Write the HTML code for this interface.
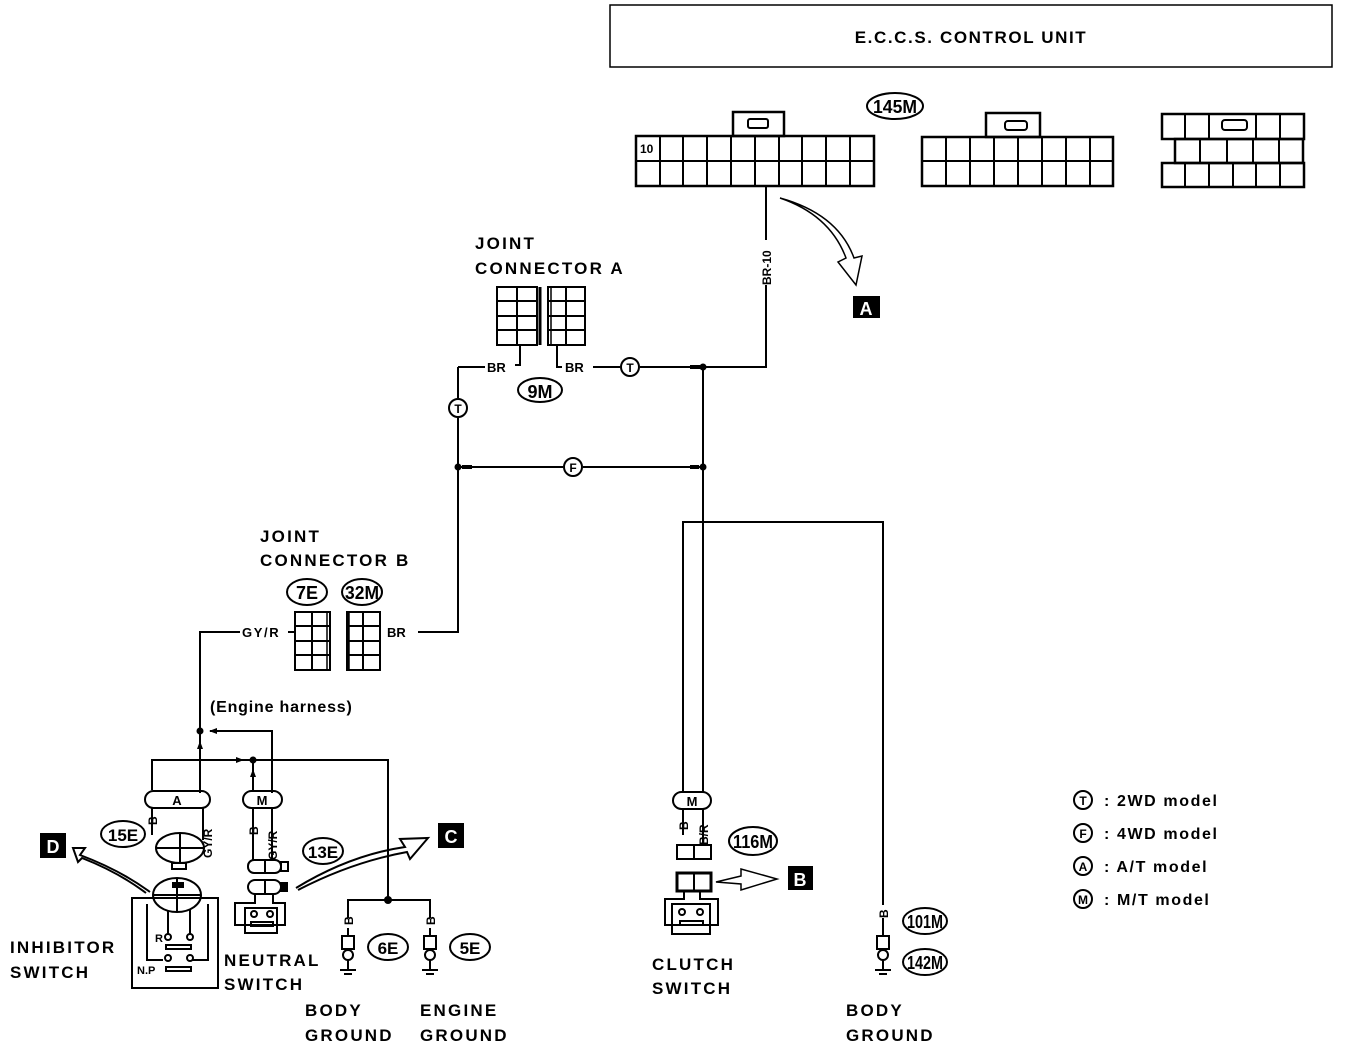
<!DOCTYPE html>
<html><head><meta charset="utf-8"><style>
html,body{margin:0;padding:0;background:#fff;}
svg{display:block;}
text{font-family:"Liberation Sans",sans-serif;font-weight:bold;fill:#000;}
.L{letter-spacing:2.2px;}
.G{letter-spacing:1.6px;}
</style></head><body>
<svg width="1360" height="1054" viewBox="0 0 1360 1054" xmlns="http://www.w3.org/2000/svg">
<defs>
<marker id="ah" markerWidth="8" markerHeight="8" refX="7" refY="4" orient="auto" markerUnits="userSpaceOnUse"><path d="M0,1 L8,4 L0,7z" fill="#000"/></marker>
</defs>
<g stroke="#000" stroke-width="2" fill="none">
<rect x="610" y="5" width="722" height="62" stroke-width="1.5"/>
<rect x="733" y="112" width="51" height="24" stroke-width="2.5"/>
<rect x="748" y="119" width="20" height="9" rx="2"/>
<rect x="636" y="136" width="238" height="50" stroke-width="2.5"/>
<line x1="636" y1="161" x2="874" y2="161"/>
<path d="M660,136V186M683,136V186M707,136V186M731,136V186M755,136V186M779,136V186M802,136V186M826,136V186M850,136V186"/>
<rect x="986" y="113" width="54" height="24" stroke-width="2.5"/>
<rect x="1005" y="121" width="22" height="9" rx="3"/>
<rect x="922" y="137" width="191" height="49" stroke-width="2.5"/>
<line x1="922" y1="161" x2="1113" y2="161"/>
<path d="M946,137V186M970,137V186M994,137V186M1018,137V186M1042,137V186M1066,137V186M1090,137V186"/>
<rect x="1162" y="114" width="142" height="25" stroke-width="2.5"/>
<path d="M1185,114V139M1209,114V139M1256,114V139M1280,114V139"/>
<rect x="1222" y="120" width="25" height="10" rx="3"/>
<rect x="1175" y="139" width="128" height="24" stroke-width="2.5"/>
<path d="M1200,139V163M1227,139V163M1253,139V163M1279,139V163"/>
<rect x="1162" y="163" width="142" height="24" stroke-width="2.5"/>
<path d="M1185,163V187M1209,163V187M1233,163V187M1256,163V187M1280,163V187"/>
<ellipse cx="895" cy="106" rx="28" ry="13"/>
<path d="M780,198 Q830,215 846,258 L838,262 L856,285 L862,256 L854,258 Q838,214 780,198z" stroke-width="1.5"/>

<path d="M766,187V240M766,285V367H703"/>
<rect x="497" y="287" width="40" height="58"/>
<path d="M517,287V345M497,301H537M497,316H537M497,330H537"/>
<line x1="540" y1="287" x2="540" y2="345" stroke-width="3"/>
<rect x="548" y="287" width="37" height="58"/>
<line x1="551" y1="287" x2="551" y2="345" stroke-width="1.5"/>
<path d="M566,287V345M548,301H585M548,316H585M548,330H585"/>
<path d="M520,345V365H515M458,367H485"/>
<path d="M557,345V367H562M593,367H620M640,367H700" />
<circle cx="630" cy="367" r="9"/>
<line x1="690" y1="367" x2="700" y2="367" stroke-width="4"/>
<ellipse cx="540" cy="390" rx="22" ry="12"/>
<path d="M458,367V398M458,418V632H418"/>
<circle cx="458" cy="408" r="9"/>
<path d="M458,467H563M583,467H703"/>
<circle cx="573" cy="467" r="9"/>
<line x1="690" y1="467" x2="699" y2="467" stroke-width="4"/>
<line x1="462" y1="467" x2="472" y2="467" stroke-width="4"/>
<path d="M703,367V792"/>
<path d="M683,792V522H883V905"/>
<ellipse cx="307" cy="592" rx="20" ry="13"/>
<ellipse cx="362" cy="592" rx="20" ry="13"/>
<rect x="295" y="612" width="35" height="58"/>
<path d="M312,612V670M295,626H330M295,641H330M295,655H330"/>
<line x1="327" y1="612" x2="327" y2="670" stroke-width="1.5"/>
<rect x="347" y="612" width="33" height="58"/>
<line x1="348" y1="612" x2="348" y2="670" stroke-width="3.5"/>
<path d="M363,612V670M347,626H380M347,641H380M347,655H380"/>
<path d="M200,793V632H240M288,632H295"/>
<path d="M272,793V731H210" marker-end="url(#ah)"/>
<path d="M152,790V760H243" marker-end="url(#ah)"/>
<path d="M243,760H388V900"/>
<path d="M253,790V770" marker-end="url(#ah)"/>
<line x1="253" y1="770" x2="253" y2="762"/>
<path d="M200,760V740"/>
<path d="M200,752V742" marker-end="url(#ah)"/>
<rect x="145" y="791" width="65" height="17" rx="8.5"/>
<rect x="243" y="791" width="39" height="17" rx="8.5"/>
<rect x="673" y="792" width="38" height="17" rx="8.5"/>
<path d="M152,808V835M203,808V840"/>
<ellipse cx="180" cy="848" rx="24" ry="15"/>
<path d="M180,833V863M156,848H204"/>
<rect x="172" y="863" width="14" height="6"/>
<ellipse cx="123" cy="834" rx="22" ry="13"/>
<rect x="132" y="898" width="86" height="90"/>
<ellipse cx="177" cy="895" rx="24" ry="17"/>
<path d="M177,878V912M153,895H201"/>
<path d="M147,904V960H163M208,904V960H192M168,910V935M190,910V935"/>
<circle cx="168" cy="937" r="3"/><circle cx="190" cy="937" r="3"/>
<circle cx="168" cy="958" r="3"/><circle cx="190" cy="958" r="3"/>
<rect x="166" y="945" width="25" height="4"/>
<rect x="166" y="967" width="25" height="4"/>
<path d="M150,892 Q120,870 80,855 L85,848 L73,848 L78,862 L82,858 Q118,872 146,893"/>
<path d="M253,808V860M272,808V860"/>
<rect x="248" y="860" width="33" height="13" rx="6"/>
<rect x="281" y="862" width="7" height="9"/>
<rect x="248" y="880" width="33" height="14" rx="7"/>
<path d="M265,860V873M265,880V894"/>
<ellipse cx="323" cy="851" rx="20" ry="13"/>
<path d="M255,894V903H235V925H285V903H273V894"/>
<rect x="245" y="908" width="32" height="25"/>
<circle cx="254" cy="914" r="3"/><circle cx="270" cy="914" r="3"/>
<rect x="251" y="922" width="22" height="4"/>
<path d="M296,888 Q350,855 405,847 L400,839 L428,838 L410,859 L407,852 Q352,862 298,890"/>
<path d="M348,918V900H430V918"/>
<path d="M348,928V936M430,928V936"/>
<rect x="342" y="936" width="12" height="13"/>
<rect x="424" y="936" width="12" height="13"/>
<circle cx="348" cy="955" r="5"/><circle cx="430" cy="955" r="5"/>
<path d="M348,960V970M340,970H356M344,974H352M430,960V970M422,970H438M426,974H434"/>
<ellipse cx="388" cy="947" rx="20" ry="13"/>
<ellipse cx="470" cy="947" rx="20" ry="13"/>
<path d="M683,809V835M703,809V845"/>
<rect x="677" y="845" width="34" height="14"/>
<line x1="694" y1="845" x2="694" y2="859"/>
<rect x="677" y="873" width="34" height="18" stroke-width="3"/>
<line x1="694" y1="873" x2="694" y2="891" stroke-width="2"/>
<path d="M684,891V899H665V925H718V899H700V891"/>
<rect x="672" y="904" width="38" height="30"/>
<circle cx="682" cy="912" r="3"/><circle cx="700" cy="912" r="3"/>
<rect x="680" y="921" width="23" height="4"/>
<path d="M716,882 L741,876 L741,869 L777,879 L741,890 L741,884z" stroke-width="1.5"/>
<ellipse cx="753" cy="841" rx="24" ry="14"/>
<path d="M883,918V936"/>
<rect x="877" y="936" width="12" height="13"/>
<circle cx="883" cy="955" r="5"/>
<path d="M883,960V970M875,970H891M879,974H887"/>
<ellipse cx="925" cy="921" rx="22" ry="13"/>
<ellipse cx="925" cy="962" rx="22" ry="13"/>
<circle cx="1083" cy="800" r="9"/><circle cx="1083" cy="833" r="9"/>
<circle cx="1083" cy="866" r="9"/><circle cx="1083" cy="899" r="9"/>
</g>
<g fill="#000">
<circle cx="703" cy="367" r="3.5"/><circle cx="458" cy="467" r="3.5"/><circle cx="703" cy="467" r="3.5"/>
<circle cx="200" cy="731" r="3.5"/><circle cx="253" cy="760" r="3.5"/><circle cx="388" cy="900" r="4"/>
<rect x="853" y="296" width="27" height="22"/>
<rect x="788" y="866" width="25" height="24"/>
<rect x="438" y="823" width="26" height="25"/>
<rect x="40" y="833" width="26" height="25"/>
<rect x="172" y="882" width="12" height="6"/>
<rect x="280" y="882" width="8" height="10"/>
</g>
<text x="971" y="43" font-size="17" text-anchor="middle" class="G">E.C.C.S. CONTROL UNIT</text>
<text x="895" y="113" font-size="18" text-anchor="middle" textLength="44" lengthAdjust="spacingAndGlyphs">145M</text>
<text x="640" y="153" font-size="12" font-weight="normal">10</text>
<text x="866" y="315" font-size="18" text-anchor="middle" style="fill:#fff">A</text>
<text x="800" y="886" font-size="18" text-anchor="middle" style="fill:#fff">B</text>
<text x="451" y="843" font-size="18" text-anchor="middle" style="fill:#fff">C</text>
<text x="53" y="853" font-size="18" text-anchor="middle" style="fill:#fff">D</text>
<text transform="translate(771,285) rotate(-90)" font-size="12">BR-10</text>
<text x="475" y="249" font-size="17" class="L">JOINT</text>
<text x="475" y="274" font-size="17" class="L">CONNECTOR A</text>
<text x="487" y="372" font-size="13">BR</text>
<text x="565" y="372" font-size="13">BR</text>
<text x="630" y="372" font-size="12" text-anchor="middle">T</text>
<text x="573" y="472" font-size="12" text-anchor="middle">F</text>
<text x="458" y="413" font-size="12" text-anchor="middle">T</text>
<text x="540" y="398" font-size="18" text-anchor="middle">9M</text>
<text x="260" y="542" font-size="17" class="L">JOINT</text>
<text x="260" y="566" font-size="17" class="L">CONNECTOR B</text>
<text x="307" y="599" font-size="18" text-anchor="middle">7E</text>
<text x="362" y="599" font-size="18" text-anchor="middle" textLength="34" lengthAdjust="spacingAndGlyphs">32M</text>
<text x="242" y="637" font-size="13" class="G">GY/R</text>
<text x="387" y="637" font-size="13">BR</text>
<text x="210" y="712" font-size="16" style="letter-spacing:0.8px">(Engine harness)</text>
<text x="177" y="805" font-size="13" text-anchor="middle">A</text>
<text x="262" y="805" font-size="13" text-anchor="middle">M</text>
<text x="692" y="806" font-size="13" text-anchor="middle">M</text>
<text transform="translate(157,825) rotate(-90)" font-size="12">B</text>
<text transform="translate(212,858) rotate(-90)" font-size="12">GY/R</text>
<text transform="translate(258,835) rotate(-90)" font-size="12">B</text>
<text transform="translate(277,860) rotate(-90)" font-size="12">GY/R</text>
<text transform="translate(688,830) rotate(-90)" font-size="12">B</text>
<text transform="translate(708,845) rotate(-90)" font-size="12">B/R</text>
<text transform="translate(353,925) rotate(-90)" font-size="12">B</text>
<text transform="translate(435,925) rotate(-90)" font-size="12">B</text>
<text transform="translate(888,918) rotate(-90)" font-size="12">B</text>
<text x="123" y="841" font-size="17" text-anchor="middle">15E</text>
<text x="323" y="858" font-size="17" text-anchor="middle">13E</text>
<text x="753" y="848" font-size="18" text-anchor="middle" textLength="40" lengthAdjust="spacingAndGlyphs">116M</text>
<text x="388" y="954" font-size="17" text-anchor="middle">6E</text>
<text x="470" y="954" font-size="17" text-anchor="middle">5E</text>
<text x="925" y="928" font-size="18" text-anchor="middle" textLength="36" lengthAdjust="spacingAndGlyphs">101M</text>
<text x="925" y="969" font-size="18" text-anchor="middle" textLength="36" lengthAdjust="spacingAndGlyphs">142M</text>
<text x="155" y="942" font-size="11">R</text>
<text x="137" y="974" font-size="11">N.P</text>
<text x="10" y="953" font-size="17" class="L">INHIBITOR</text>
<text x="10" y="978" font-size="17" class="L">SWITCH</text>
<text x="224" y="966" font-size="17" class="L">NEUTRAL</text>
<text x="224" y="990" font-size="17" class="L">SWITCH</text>
<text x="305" y="1016" font-size="17" class="L">BODY</text>
<text x="305" y="1041" font-size="17" class="L">GROUND</text>
<text x="420" y="1016" font-size="17" class="L">ENGINE</text>
<text x="420" y="1041" font-size="17" class="L">GROUND</text>
<text x="652" y="970" font-size="17" class="L">CLUTCH</text>
<text x="652" y="994" font-size="17" class="L">SWITCH</text>
<text x="846" y="1016" font-size="17" class="L">BODY</text>
<text x="846" y="1041" font-size="17" class="L">GROUND</text>
<text x="1083" y="805" font-size="12" text-anchor="middle">T</text>
<text x="1083" y="838" font-size="12" text-anchor="middle">F</text>
<text x="1083" y="871" font-size="12" text-anchor="middle">A</text>
<text x="1083" y="904" font-size="12" text-anchor="middle">M</text>
<text x="1104" y="806" font-size="16" class="G">:  2WD model</text>
<text x="1104" y="839" font-size="16" class="G">:  4WD model</text>
<text x="1104" y="872" font-size="16" class="G">:  A/T model</text>
<text x="1104" y="905" font-size="16" class="G">:  M/T model</text>
</svg>
</body></html>
